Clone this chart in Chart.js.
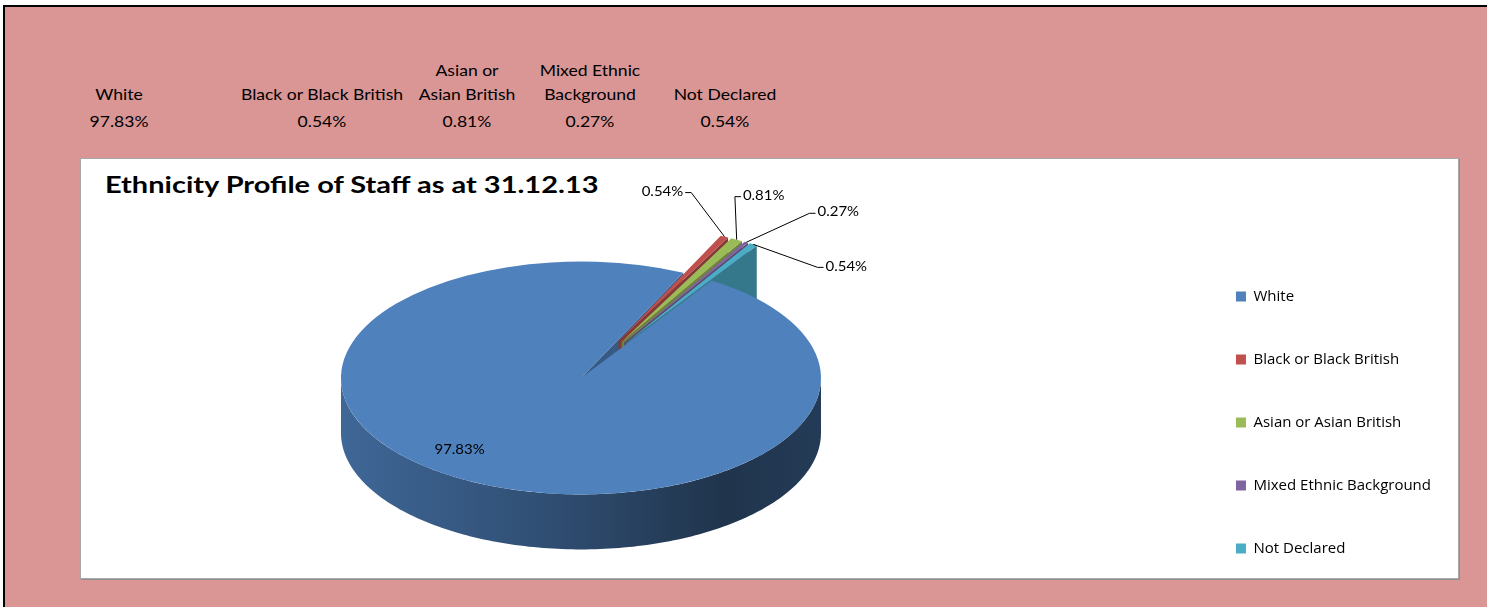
<!DOCTYPE html>
<html>
<head>
<meta charset="utf-8">
<script src="https://cdn.jsdelivr.net/npm/chart.js@4.4.1/dist/chart.umd.min.js"></script>
<style>
    html, body { margin: 0; width: 1487px; height: 607px; overflow: hidden; }
    body { background: #fff; font-family: Lato, "Open Sans", sans-serif; color: #000; }
    #sheet { position: absolute; left: 3px; top: 5px; width: 1500px; height: 610px; background: #d99695; border-left: 2px solid #000; border-top: 2px solid #000; }
    .hcell { position: absolute; width: 150px; text-align: center; font-size: 15px; line-height: 24px; white-space: pre-line; transform: scaleX(1.17); }
    #box { position: absolute; left: 80px; top: 158px; width: 1377px; height: 419px; background: #fff; border: 1px solid #a8a8a8; box-shadow: 1px 1px 0 #8f8f8f; }
    #title { position: absolute; left: 105px; top: 170px; font-size: 23px; font-weight: bold; white-space: nowrap; transform: scaleX(1.26); transform-origin: left center; }
    #chart { position: absolute; left: -26px; top: 152px; }
</style>
</head>
<body>
<div id="sheet"></div>
<div id="header"></div>
<div id="box"></div>
<div id="title">Ethnicity Profile of Staff as at 31.12.13</div>
<canvas id="chart" width="1467" height="452"></canvas>
<script>
// data
const categories = ['White', 'Black or Black British', 'Asian or Asian British', 'Mixed Ethnic Background', 'Not Declared'];
const headerLabels = ['White', 'Black or Black British', 'Asian or\nAsian British', 'Mixed Ethnic\nBackground', 'Not Declared'];
const percentages = [97.83, 0.54, 0.81, 0.27, 0.54];
const sliceColors = ['#4f81bd', '#c0504d', '#9bbb59', '#8064a2', '#4bacc6'];

// look of the 3d pie
const headerCenters = [119, 322, 467, 590, 725];
const TILT = 0.485, DEPTH = 55, TAU = Math.PI * 2;
const explode = [0, 85, 85, 85, 85];
const labelOffsets = [[-28, -10], [-62, -45], [27, -44], [92, -30], [93, 22]];
const labelStretch = 1.15;

// header table above the chart
var header = document.getElementById('header');
for (var i = 0; i < categories.length; i++) {
    var h = document.createElement('div');
    h.className = 'hcell';
    h.style.left = (headerCenters[i] - 75) + 'px';
    h.style.bottom = (607 - 106) + 'px';
    h.textContent = headerLabels[i];
    header.appendChild(h);
    var v = document.createElement('div');
    v.className = 'hcell';
    v.style.left = (headerCenters[i] - 75) + 'px';
    v.style.top = '109px';
    v.textContent = percentages[i].toFixed(2) + '%';
    header.appendChild(v);
}

function shade(hex, f) {
    var n = parseInt(hex.slice(1), 16);
    var r = Math.round(((n >> 16) & 255) * f), g = Math.round(((n >> 8) & 255) * f), b = Math.round((n & 255) * f);
    return 'rgb(' + r + ',' + g + ',' + b + ')';
}
function geom(arc, i) {
    var mid = (arc.startAngle + arc.endAngle) / 2;
    return {mid: mid, ex: Math.cos(mid) * explode[i], ey: Math.sin(mid) * explode[i]};
}
function pt(arc, g, a, r) {
    return [arc.x + g.ex + r * Math.cos(a), arc.y + (g.ey + r * Math.sin(a)) * TILT];
}

function drawSides(ctx, arc, i) {
    var g = geom(arc, i), R = arc.outerRadius, s = arc.startAngle, e = arc.endAngle, col = sliceColors[i];
    var faces = [];
    if (Math.cos(e) > 0) faces.push(e);
    if (Math.cos(s) < 0) faces.push(s);
    faces.forEach(function(a) {
        var c = pt(arc, g, a, 0), o = pt(arc, g, a, R);
        ctx.beginPath();
        ctx.moveTo(c[0], c[1]);
        ctx.lineTo(o[0], o[1]);
        ctx.lineTo(o[0], o[1] + DEPTH);
        ctx.lineTo(c[0], c[1] + DEPTH);
        ctx.closePath();
        ctx.fillStyle = shade(col, 0.7);
        ctx.fill();
    });
    var cx = arc.x + g.ex;
    var grad = ctx.createLinearGradient(cx - R, 0, cx + R, 0);
    grad.addColorStop(0, shade(col, 0.8));
    grad.addColorStop(0.45, shade(col, 0.6));
    grad.addColorStop(0.8, shade(col, 0.4));
    grad.addColorStop(1, shade(col, 0.46));
    for (var n = Math.floor(s / TAU) - 1; n <= Math.ceil(e / TAU); n++) {
        var lo = Math.max(s, n * TAU), hi = Math.min(e, n * TAU + Math.PI);
        if (hi <= lo) continue;
        var steps = Math.max(2, Math.ceil((hi - lo) / 0.02));
        ctx.beginPath();
        for (var j = 0; j <= steps; j++) {
            var p = pt(arc, g, lo + (hi - lo) * j / steps, R);
            if (j == 0) ctx.moveTo(p[0], p[1]); else ctx.lineTo(p[0], p[1]);
        }
        for (var j = steps; j >= 0; j--) {
            var p = pt(arc, g, lo + (hi - lo) * j / steps, R);
            ctx.lineTo(p[0], p[1] + DEPTH);
        }
        ctx.closePath();
        ctx.fillStyle = grad;
        ctx.fill();
    }
}

function drawTop(ctx, arc, i) {
    var g = geom(arc, i);
    ctx.save();
    ctx.translate(arc.x, arc.y);
    ctx.scale(1, TILT);
    ctx.translate(-arc.x + g.ex, -arc.y + g.ey);
    arc.draw(ctx);
    ctx.restore();
}

function drawLabel(ctx, text, x, y) {
    ctx.save();
    ctx.translate(x, y);
    ctx.scale(labelStretch, 1);
    ctx.fillText(text, 0, 0);
    ctx.restore();
}

const pie3d = {
    id: 'pie3d',
    beforeDatasetsDraw: function(chart) {
        var ctx = chart.ctx, arcs = chart.getDatasetMeta(0).data;
        var flat = [], out = [];
        arcs.forEach(function(a, i) { (explode[i] ? out : flat).push(i); });
        flat.forEach(function(i) { drawSides(ctx, arcs[i], i); });
        out.forEach(function(i) { drawSides(ctx, arcs[i], i); drawTop(ctx, arcs[i], i); });
        flat.forEach(function(i) { drawTop(ctx, arcs[i], i); });
        return false;
    },
    afterDraw: function(chart) {
        var ctx = chart.ctx, arcs = chart.getDatasetMeta(0).data;
        ctx.save();
        ctx.font = '13px Lato, "Open Sans", sans-serif';
        ctx.fillStyle = '#000';
        ctx.strokeStyle = '#000';
        ctx.lineWidth = 1;
        ctx.textAlign = 'center';
        ctx.textBaseline = 'middle';
        arcs.forEach(function(arc, i) {
            var g = geom(arc, i);
            var text = percentages[i].toFixed(2) + '%';
            if (!explode[i]) {
                var a = pt(arc, g, g.mid, arc.outerRadius * 0.8);
                drawLabel(ctx, text, a[0] + labelOffsets[i][0], a[1] + labelOffsets[i][1]);
                return;
            }
            var a = pt(arc, g, g.mid, arc.outerRadius);
            var lx = a[0] + labelOffsets[i][0], ly = a[1] + labelOffsets[i][1];
            var half = ctx.measureText(text).width * labelStretch / 2 + 2;
            var side = lx < a[0] ? 1 : -1;
            var edge = lx + side * half;
            var elbow = edge + side * 6;
            ctx.beginPath();
            ctx.moveTo(edge, ly + 1);
            ctx.lineTo(elbow, ly + 1);
            ctx.lineTo(a[0], a[1]);
            ctx.stroke();
            drawLabel(ctx, text, lx, ly);
        });
        ctx.restore();
    }
};

var chart = new Chart(document.getElementById('chart'), {
    type: 'pie',
    data: {
        labels: categories,
        datasets: [{
            data: percentages,
            backgroundColor: sliceColors,
            borderWidth: 0
        }]
    },
    options: {
        responsive: false,
        animation: false,
        events: [],
        rotation: 33,
        radius: 240,
        plugins: {
            tooltip: { enabled: false },
            legend: {
                position: 'right',
                align: 'end',
                labels: {
                    boxWidth: 10,
                    boxHeight: 10,
                    padding: 48,
                    color: '#000',
                    font: { family: '"Open Sans", sans-serif', size: 15 }
                }
            }
        }
    },
    plugins: [pie3d]
});
</script>
</body>
</html>
